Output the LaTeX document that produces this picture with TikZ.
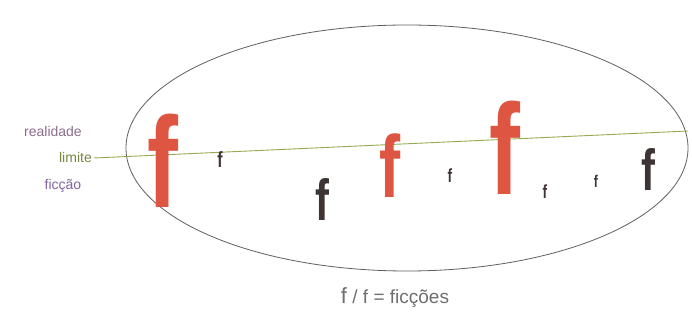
\documentclass[tikz,border=0pt]{standalone}
\usepackage{fontspec}
\setmainfont{Liberation Sans}
\definecolor{fred}{RGB}{222,86,66}
\definecolor{fdark}{RGB}{62,52,52}
\definecolor{limg}{RGB}{150,170,80}
\definecolor{realc}{RGB}{140,110,140}
\definecolor{ficc}{RGB}{130,100,160}
\definecolor{capc}{RGB}{110,110,110}
\newcommand{\narf}{\scalebox{0.72}[1]{\bfseries f}}
\begin{document}
\begin{tikzpicture}[x=1pt,y=1pt,
  fch/.style={inner sep=0pt,anchor=base},
  lab/.style={inner sep=0pt,font=\fontsize{14}{14}\selectfont}]
\useasboundingbox (0,0) rectangle (692,324);
\fill[white] (0,0) rectangle (692,324);
% ellipse
\draw[fdark!80,line width=0.8pt] (407,176) ellipse [x radius=281,y radius=123];
% limit line
\coordinate (lstart) at (94,166);
\coordinate (lend) at (688,193);
\draw[limg,line width=0.9pt] (lstart) -- (lend);
% labels
\node[lab,text=realc] (real) at (53,193) {realidade};
\node[lab,text=limg!80!black,anchor=east] (lim) at (92,167) {limite};
\node[lab,text=ficc] (fic) at (63,138) {ficção};
% f glyphs
\node[fch,text=fred,font=\fontsize{129}{129}\selectfont] (f1) at (163,117) {\narf};
\node[fch,text=fdark,font=\fontsize{22}{22}\selectfont] (f2) at (220,157) {\narf};
\node[fch,text=fdark,font=\fontsize{58}{58}\selectfont] (f3) at (322,104) {\narf};
\node[fch,text=fred,font=\fontsize{88}{88}\selectfont] (f4) at (390,127) {\narf};
\node[fch,text=fdark,font=\fontsize{19}{19}\selectfont] (f5) at (450,142) {\narf};
\node[fch,text=fred,font=\fontsize{129}{129}\selectfont] (f6) at (505,130) {\narf};
\node[fch,text=fdark,font=\fontsize{19}{19}\selectfont] (f7) at (545,125) {\narf};
\node[fch,text=fdark,font=\fontsize{17}{17}\selectfont] (f8) at (596,136) {\narf};
\node[fch,text=fdark,font=\fontsize{58}{58}\selectfont] (f9) at (648,134) {\narf};
% caption
\node[lab,text=capc,font=\fontsize{19}{19}\selectfont] (cap) at (395,26) {{\fontsize{22}{22}\selectfont f} / f = ficções};
\end{tikzpicture}
\end{document}
